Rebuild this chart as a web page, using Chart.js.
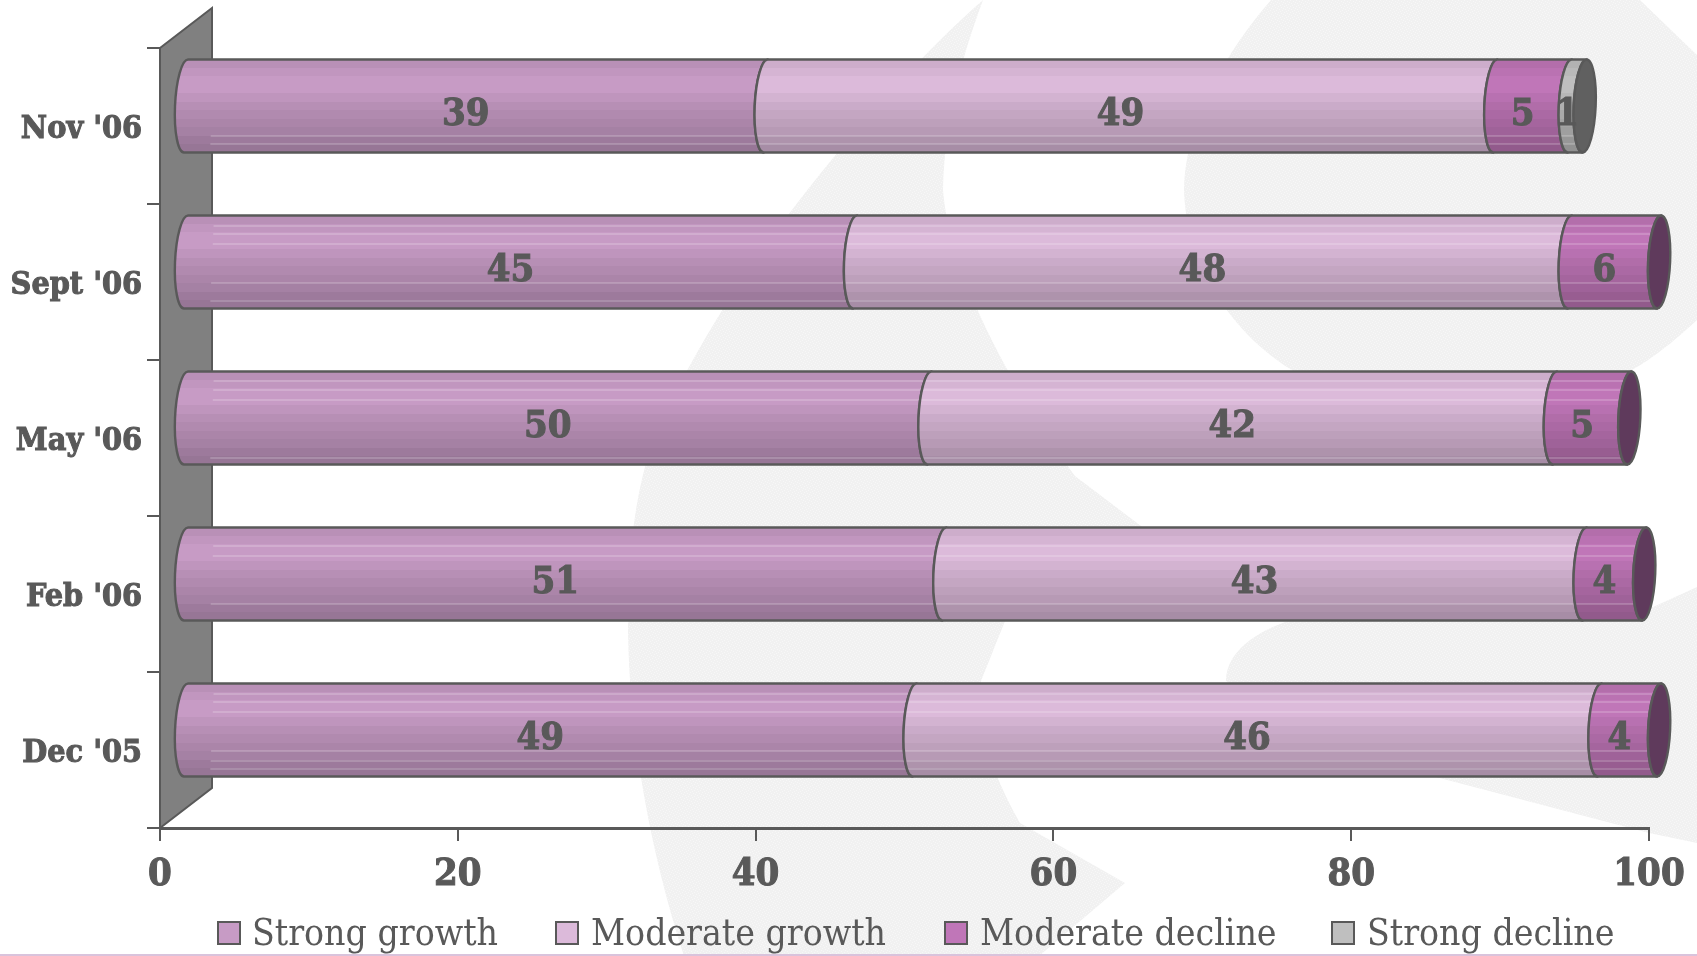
<!DOCTYPE html>
<html><head><meta charset="utf-8">
<style>html,body{margin:0;padding:0;background:#fff}canvas{display:block}</style>
<script src="https://cdn.jsdelivr.net/npm/chart.js@4"></script>
</head><body>
<canvas id="c" width="1697" height="956"></canvas>
<script>
const categories = ["Nov '06","Sept '06","May '06","Feb '06","Dec '05"];
const strongGrowth   = [39,45,50,51,49];
const moderateGrowth = [49,48,42,43,46];
const moderateDecline= [5,6,5,4,4];
const strongDecline  = [1,0,0,0,0];
const seriesNames = ["Strong growth","Moderate growth","Moderate decline","Strong decline"];
const seriesColors = ["#c79bc5","#dcbada","#c076b8","#bfbfbf"];
const capColors = ["#6b4a68","#7a6478","#5f3a5c","#606060"];
const xTicks = [0,20,40,60,80,100];

const INK = "#595959";
const DX = 26, DY = -20;        // depth offset of the bars on the 3-D floor
const CAP = 11, SHEAR = -4/93;  // cylinder end ellipse
// brightness bands of the cylinder, top to bottom
const bands = [.93,.97,1,1,.96,.92,.89,.86,.83,.79,.76];
// thin highlights, relative to bar top, per category
const glints = [[76,84],[10,18,28,67,85],[9,18,28,86],[18,28,76],[10,18,28,67,77,85]];

function shade(hex,f){
  const n=parseInt(hex.slice(1),16);
  const c=s=>Math.round(((n>>s)&255)*f);
  return `rgb(${c(16)},${c(8)},${c(0)})`;
}
function bandGradient(ctx,top,bot,hex){
  const g=ctx.createLinearGradient(0,top,0,bot);
  bands.forEach((b,i)=>{
    g.addColorStop(i/bands.length,shade(hex,b));
    g.addColorStop((i+1)/bands.length,shade(hex,b));
  });
  return g;
}
function watermark(ctx){
  const tile=document.createElement('canvas');tile.width=tile.height=6;
  const t=tile.getContext('2d');
  t.fillStyle='#f1f1f1';t.fillRect(0,0,6,6);
  t.fillStyle='#f7f7f7';
  [[0,0],[3,1],[1,3],[4,4],[2,5],[5,2]].forEach(p=>t.fillRect(p[0],p[1],1,1));
  ctx.save();
  ctx.fillStyle=ctx.createPattern(tile,'repeat');
  // left crescent
  ctx.beginPath();
  ctx.moveTo(983,0);
  ctx.bezierCurveTo(880,90,700,300,645,467);
  ctx.bezierCurveTo(620,560,615,740,684,956);
  ctx.lineTo(1039,956);ctx.lineTo(1125,883);
  ctx.lineTo(1020,823);
  ctx.bezierCurveTo(990,770,975,720,981,681);
  ctx.lineTo(1005,621);ctx.lineTo(1145,529);
  ctx.lineTo(1075,476);
  ctx.bezierCurveTo(1020,400,950,280,943,190);
  ctx.bezierCurveTo(945,110,965,50,983,0);
  ctx.closePath();ctx.fill();
  // upper-right disc
  ctx.beginPath();
  ctx.moveTo(1271,0);
  ctx.bezierCurveTo(1210,70,1184,140,1184,190);
  ctx.bezierCurveTo(1186,270,1240,350,1320,385);
  ctx.lineTo(1600,385);
  ctx.bezierCurveTo(1640,370,1670,345,1697,320);
  ctx.lineTo(1697,55);ctx.lineTo(1640,0);
  ctx.closePath();ctx.fill();
  // lower-right wedge
  ctx.beginPath();
  ctx.moveTo(1697,587);
  ctx.lineTo(1653,607);ctx.lineTo(1620,610);
  ctx.lineTo(1320,612);
  ctx.bezierCurveTo(1260,625,1226,650,1226,681);
  ctx.lineTo(1300,720);
  ctx.lineTo(1432,776);
  ctx.lineTo(1649,833);ctx.lineTo(1697,843);
  ctx.closePath();ctx.fill();
  ctx.restore();
  ctx.fillStyle='#d9c3dc';
  ctx.fillRect(0,954,1697,2);
}
const backdrop={id:'backdrop',beforeDraw(chart){watermark(chart.ctx);}};
const wall={id:'wall',beforeDatasetsDraw(chart){
  const {ctx,chartArea:a}=chart;
  ctx.save();
  ctx.beginPath();
  ctx.moveTo(a.left,a.top);
  ctx.lineTo(a.left+2*DX,a.top+2*DY);
  ctx.lineTo(a.left+2*DX,a.bottom+2*DY);
  ctx.lineTo(a.left,a.bottom);
  ctx.closePath();
  ctx.fillStyle='#808080';ctx.fill();
  ctx.strokeStyle=INK;ctx.lineWidth=2;ctx.stroke();
  ctx.restore();
}};
const cylinders={id:'cylinders',beforeDatasetsDraw(chart){
  const {ctx,chartArea:a}=chart;
  const metas=chart.getSortedVisibleDatasetMetas().slice().sort((m,n)=>m.index-n.index);
  const nCat=categories.length;
  for(let i=0;i<nCat;i++){
    let last=-1;
    metas.forEach((m,k)=>{if(chart.data.datasets[m.index].data[i]>0)last=k;});
    metas.forEach((m,k)=>{
      const v=chart.data.datasets[m.index].data[i];
      if(!(v>0))return;
      const el=m.data[i];
      const x0=el.base+DX-1,x1=el.x+DX-1,cy=el.y+DY,h=el.height,top=cy-h/2,bot=cy+h/2;
      ctx.save();
      ctx.translate(-SHEAR*cy,0);ctx.transform(1,0,SHEAR,1,0,0);
      ctx.lineWidth=2.4;ctx.strokeStyle=INK;ctx.lineJoin='round';
      const body=new Path2D();
      body.ellipse(x0,cy,CAP,h/2,0,-Math.PI/2,Math.PI/2,true);
      body.ellipse(x1,cy,CAP,h/2,0,Math.PI/2,-Math.PI/2,false);
      body.closePath();
      ctx.fillStyle=bandGradient(ctx,top,bot,seriesColors[m.index]);
      ctx.fill(body);
      ctx.save();ctx.clip(body);
      ctx.strokeStyle='rgba(255,255,255,.36)';ctx.lineWidth=1;
      glints[i].forEach(o=>{
        ctx.beginPath();ctx.moveTo(Math.max(x0-CAP,a.left+2*DX),top+o+.5);ctx.lineTo(x1,top+o+.5);ctx.stroke();
      });
      ctx.restore();
      ctx.stroke(body);
      if(k===last){
        const cap=new Path2D();
        cap.ellipse(x1,cy,CAP,h/2,0,0,Math.PI*2);
        ctx.fillStyle=capColors[m.index];ctx.fill(cap);ctx.stroke(cap);
      }
      ctx.restore();
    });
  }
  ctx.save();
  ctx.font='bold 38px "DejaVu Serif Condensed"';
  ctx.fillStyle=INK;ctx.strokeStyle=INK;ctx.lineWidth=1;ctx.textAlign='center';ctx.textBaseline='middle';
  metas.forEach(m=>{
    chart.data.datasets[m.index].data.forEach((v,i)=>{
      if(!(v>0))return;
      const el=m.data[i];
      const tx=(el.base+el.x)/2+DX-11,ty=el.y+DY+9;
      ctx.fillText(String(v),tx,ty);ctx.strokeText(String(v),tx,ty);
    });
  });
  ctx.restore();
  return false;
}};
const legendRow={id:'legendRow',afterDraw(chart){
  const ctx=chart.ctx;
  const boxX=[218,556,945,1332],textX=[252,591,980,1367];
  ctx.save();
  ctx.font='37px "DejaVu Serif Condensed"';
  ctx.textBaseline='middle';ctx.textAlign='left';
  seriesNames.forEach((name,i)=>{
    ctx.fillStyle=seriesColors[i];ctx.strokeStyle=INK;ctx.lineWidth=2;
    ctx.fillRect(boxX[i],922,22,22);ctx.strokeRect(boxX[i],922,22,22);
    ctx.fillStyle=INK;
    ctx.fillText(name,textX[i],935);
  });
  ctx.restore();
}};

new Chart(document.getElementById('c'),{
  type:'bar',
  data:{labels:categories,datasets:[
    {label:seriesNames[0],data:strongGrowth,backgroundColor:seriesColors[0]},
    {label:seriesNames[1],data:moderateGrowth,backgroundColor:seriesColors[1]},
    {label:seriesNames[2],data:moderateDecline,backgroundColor:seriesColors[2]},
    {label:seriesNames[3],data:strongDecline,backgroundColor:seriesColors[3]}
  ]},
  plugins:[backdrop,wall,cylinders,legendRow],
  options:{
    indexAxis:'y',responsive:false,animation:false,
    barThickness:93,
    layout:{padding:{top:48,right:48,left:0,bottom:0}},
    plugins:{legend:{display:false},tooltip:{enabled:false}},
    scales:{
      x:{stacked:true,min:0,max:100,
        afterFit(s){s.height=128;},
        afterBuildTicks(s){s.ticks=xTicks.map(v=>({value:v}));},
        border:{color:INK,width:3},
        grid:{drawOnChartArea:false,drawTicks:true,tickLength:13,color:INK,lineWidth:2},
        ticks:{color:INK,padding:11,maxRotation:0,textStrokeColor:INK,textStrokeWidth:1,font:{family:'"DejaVu Serif Condensed"',weight:'bold',size:38}}},
      y:{stacked:true,
        afterFit(s){s.width=160;},
        border:{color:INK,width:2},
        grid:{drawOnChartArea:false,drawTicks:true,tickLength:13,color:INK,lineWidth:2},
        ticks:{color:INK,padding:5,labelOffset:4,textStrokeColor:INK,textStrokeWidth:1,font:{family:'"DejaVu Serif Condensed"',weight:'bold',size:32}}}
    }
  }
});
</script>
</body></html>
